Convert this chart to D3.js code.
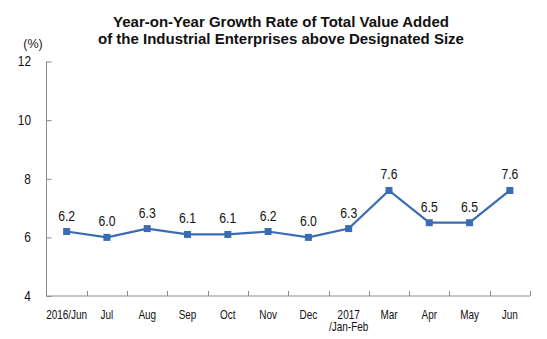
<!DOCTYPE html>
<html><head><meta charset="utf-8">
<script src="https://cdn.jsdelivr.net/npm/d3@7"></script>
<style>body{margin:0;background:#fff}svg{display:block}text{font-family:Arial,"Liberation Sans",sans-serif}</style>
</head><body><svg id="c" width="547" height="339"></svg>
<script>
const categories = ["2016/Jun","Jul","Aug","Sep","Oct","Nov","Dec","2017\n/Jan-Feb","Mar","Apr","May","Jun"];
const values = [6.2,6.0,6.3,6.1,6.1,6.2,6.0,6.3,7.6,6.5,6.5,7.6];
const yTicks = [4,6,8,10,12];
const titleLines = ["Year-on-Year Growth Rate of Total Value Added","of the Industrial Enterprises above Designated Size"];
const unitLabel = "(%)";

const svg = d3.select("#c");
const mLeft = 46.5, mRight = 530, mTop = 61.5, mBottom = 296;
const x = d3.scaleBand().domain(categories).range([mLeft, mRight]);
const y = d3.scaleLinear().domain([4,12]).range([mBottom, mTop]);
const color = "#3a6cb3";
const axisColor = "#8c8c8c";
const SX = 0.85; // narrow glyphs

// title
svg.append("g").selectAll("text").data(titleLines).join("text")
  .attr("x", 281).attr("y", (d,i)=>27+i*17)
  .attr("text-anchor","middle").attr("font-weight","bold").attr("font-size",15)
  .attr("fill","#111").text(d=>d);
svg.append("text").attr("x",33).attr("y",48).attr("text-anchor","middle")
  .attr("font-size",12.5).attr("fill","#222").text(unitLabel);

// y axis
const yAxis = d3.axisLeft(y).tickValues(yTicks).tickSize(-5).tickPadding(16).tickFormat(d3.format("d"));
const gy = svg.append("g").attr("transform",`translate(${mLeft},0)`).call(yAxis);
gy.select(".domain").attr("stroke",axisColor).attr("d",`M0,${mTop}V${mBottom}`);
gy.selectAll(".tick line").attr("stroke",axisColor);
gy.selectAll(".tick text").attr("font-size",14).attr("fill","#111")
  .attr("font-family","Arial, 'Liberation Sans', sans-serif")
  .attr("x",-15.5/SX).attr("transform",`scale(${SX},1)`);

// x axis with boundary ticks
const gx = svg.append("g").attr("transform",`translate(0,${mBottom})`);
gx.append("line").attr("x1",mLeft).attr("x2",mRight).attr("stroke",axisColor);
const bounds = categories.map(c=>x(c)+x.bandwidth());
gx.selectAll("line.t").data(bounds).join("line").attr("class","t")
  .attr("x1",d=>Math.round(d)+0.5).attr("x2",d=>Math.round(d)+0.5).attr("y1",0).attr("y2",-5).attr("stroke",axisColor);
const xl = gx.selectAll("text").data(categories).join("text")
  .attr("transform",d=>`translate(${x(d)+x.bandwidth()/2},22.5) scale(0.83,1)`)
  .attr("text-anchor","middle").attr("font-size",12).attr("fill","#111");
xl.each(function(d){
  const parts = d.split("\n");
  d3.select(this).selectAll("tspan").data(parts).join("tspan")
    .attr("x",0).attr("dy",(p,i)=>i?13:0).text(p=>p);
});

// line
const cx = d=>x(d)+x.bandwidth()/2;
const line = d3.line().x((v,i)=>cx(categories[i])).y(v=>y(v));
svg.append("path").datum(values).attr("d",line).attr("fill","none").attr("stroke",color).attr("stroke-width",2.2);
svg.append("g").selectAll("rect").data(values).join("rect")
  .attr("x",(v,i)=>cx(categories[i])-3.5).attr("y",v=>y(v)-3.5).attr("width",7).attr("height",7).attr("fill",color);
svg.append("g").selectAll("text").data(values).join("text")
  .attr("transform",(v,i)=>`translate(${cx(categories[i])},${y(v)-11}) scale(0.87,1)`)
  .attr("text-anchor","middle").attr("font-size",14).attr("fill","#111").text(v=>v.toFixed(1));
</script></body></html>
